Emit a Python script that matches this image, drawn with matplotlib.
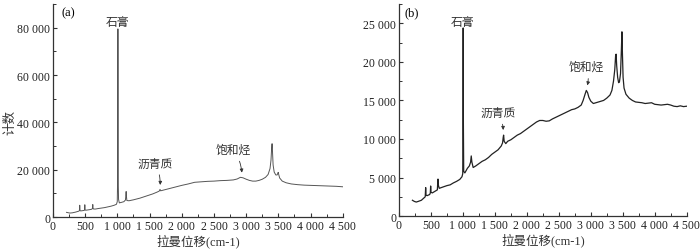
import matplotlib
matplotlib.use('Agg')
import matplotlib.pyplot as plt
from matplotlib.ticker import MultipleLocator, FuncFormatter

plt.rcParams['font.family'] = ['Liberation Serif', 'Noto Sans CJK SC']

# spectrum (a): raman shift (cm-1) and counts
a_x = [210, 260, 300, 350, 400, 410, 415, 420, 430, 480, 490, 494, 498, 510, 560, 600, 612, 618, 622, 630,
       660, 700, 800, 900, 950, 985, 998, 1003, 1006, 1008, 1010, 1013, 1018, 1030, 1060, 1100, 1125, 1133,
       1136, 1139, 1147, 1180, 1250, 1350, 1450, 1550, 1620, 1650, 1662, 1672, 1700, 1800, 1900, 2000, 2100,
       2200, 2300, 2400, 2500, 2600, 2700, 2800, 2860, 2910, 2950, 3000, 3050, 3100, 3150, 3200, 3250, 3300,
       3340, 3370, 3385, 3395, 3402, 3408, 3418, 3435, 3460, 3480, 3490, 3497, 3505, 3520, 3560, 3620, 3700,
       3800, 3900, 4000, 4100, 4200, 4300, 4400, 4500]
a_y = [2000, 1700, 1800, 2100, 2500, 2700, 5000, 2800, 2600, 2800, 3000, 5200, 3000, 2900, 3100, 3300, 3600,
       5300, 3800, 3400, 3400, 3600, 4000, 4600, 5000, 5400, 6500, 15000, 50000, 79500, 50000, 15000, 7500,
       6000, 6200, 6500, 7200, 9500, 10800, 9200, 7000, 6900, 7300, 8000, 8900, 9800, 10600, 11000, 11700,
       11100, 11300, 12000, 12700, 13400, 14000, 14700, 14900, 15100, 15200, 15400, 15500, 15700, 16100,
       16800, 16600, 16000, 15500, 15200, 15200, 15500, 16000, 16800, 18000, 20500, 24000, 29000, 31000,
       28000, 22000, 19000, 17800, 17800, 18400, 18900, 18000, 16500, 15200, 14500, 14000, 13700, 13500,
       13400, 13300, 13200, 13100, 13000, 12800]

# spectrum (b)
b_x = [210, 240, 270, 300, 350, 390, 410, 417, 423, 440, 480, 490, 495, 500, 520, 560, 600, 605, 610, 616,
       630, 680, 750, 800, 850, 900, 950, 985, 997, 1001, 1004, 1007, 1012, 1030, 1070, 1100, 1120, 1130,
       1140, 1160, 1200, 1250, 1300, 1350, 1400, 1450, 1500, 1550, 1600, 1620, 1630, 1636, 1645, 1670, 1700,
       1750, 1800, 1850, 1900, 1950, 2000, 2050, 2100, 2150, 2200, 2250, 2300, 2350, 2400, 2450, 2500, 2550,
       2600, 2650, 2700, 2750, 2800, 2850, 2880, 2910, 2930, 2950, 2970, 3000, 3040, 3080, 3120, 3160, 3200,
       3250, 3300, 3330, 3355, 3375, 3388, 3396, 3405, 3420, 3435, 3448, 3465, 3478, 3487, 3495, 3505, 3520,
       3550, 3600, 3650, 3700, 3750, 3800, 3850, 3900, 3950, 4000, 4050, 4100, 4150, 4200, 4250, 4300, 4350,
       4400, 4450, 4500]
b_y = [2050, 1900, 1820, 1900, 2050, 2350, 2500, 3700, 2700, 2650, 2800, 3000, 3900, 3100, 3000, 3200, 3400,
       4200, 4800, 4000, 3600, 3750, 3950, 4050, 4300, 4500, 4750, 5100, 5500, 12000, 24400, 12000, 5800,
       5600, 6200, 6500, 7000, 7800, 7000, 6300, 6500, 6800, 7100, 7300, 7600, 8000, 8300, 8600, 9100, 9500,
       10200, 10500, 9700, 9400, 9700, 9900, 10200, 10500, 10700, 11000, 11300, 11600, 11900, 12200, 12400,
       12400, 12300, 12350, 12600, 12800, 13000, 13200, 13400, 13600, 13800, 13900, 14100, 14400, 15000,
       15800, 16300, 16000, 15400, 14900, 14600, 14700, 14800, 14900, 15000, 15300, 15700, 16300, 17500,
       19000, 20800, 21000, 19500, 18000, 17300, 17400, 18500, 21500, 23900, 21000, 18000, 16600, 15800,
       15300, 15000, 14800, 14750, 14700, 14600, 14650, 14700, 14500, 14450, 14400, 14450, 14500, 14400,
       14250, 14200, 14300, 14200, 14250]

xlabel = '拉曼位移(cm-1)'
ylabel = '计数'


def fmt(v, pos):
    return '{:,}'.format(int(round(v))).replace(',', ' ')


fig = plt.figure(figsize=(7, 2.53), dpi=100)
ax1 = fig.add_axes([0.0757, 0.138, 0.414, 0.842])
ax2 = fig.add_axes([0.570, 0.142, 0.411, 0.838])

ax1.plot(a_x, a_y, color='#555555', lw=0.7)
ax2.plot(b_x, b_y, color='#222222', lw=0.9)

ax1.set_ylim(0, 90000)
ax2.set_ylim(0, 27500)
ax1.yaxis.set_major_locator(MultipleLocator(20000))
ax1.yaxis.set_minor_locator(MultipleLocator(10000))
ax2.yaxis.set_major_locator(MultipleLocator(5000))
ax2.yaxis.set_minor_locator(MultipleLocator(2500))

for ax in (ax1, ax2):
    ax.set_xlim(0, 4500)
    ax.xaxis.set_major_locator(MultipleLocator(500))
    ax.xaxis.set_minor_locator(MultipleLocator(250))
    ax.xaxis.set_major_formatter(FuncFormatter(fmt))
    ax.yaxis.set_major_formatter(FuncFormatter(fmt))
    for s in ('top', 'right'):
        ax.spines[s].set_visible(False)
    for s in ('left', 'bottom'):
        ax.spines[s].set_color('#333333')
        ax.spines[s].set_linewidth(0.9)
    ax.tick_params(which='major', direction='in', length=3, width=0.8, color='#333333',
                   labelsize=8.5, labelcolor='#222222', pad=2)
    ax.tick_params(which='minor', direction='in', length=2, width=0.7, color='#333333')
    ax.set_xlabel(xlabel, fontsize=9, color='#333333', labelpad=1)

fig.text(0.014, 0.514, ylabel, rotation=90, fontsize=9, color='#333333', va='center', ha='center')

ax1.text(0.03, 0.99, '(a)', transform=ax1.transAxes, fontsize=9, va='top', ha='left')
ax2.text(0.02, 0.99, '(b)', transform=ax2.transAxes, fontsize=9, va='top', ha='left')

cn = dict(fontsize=8.5, color='#333333', ha='center', va='center')
arr = dict(arrowstyle='-|>', color='#333333', lw=0.6, mutation_scale=5,
           connectionstyle='arc3,rad=-0.15')

ax1.text(1008, 82300, '石膏', **cn)
ax1.annotate('沥青质', xy=(1662, 12400), xytext=(1585, 22700), arrowprops=arr, **cn)
ax1.annotate('饱和烃', xy=(2935, 17600), xytext=(2805, 28400), arrowprops=arr, **cn)

ax2.text(1000, 25170, '石膏', **cn)
ax2.annotate('沥青质', xy=(1630, 10800), xytext=(1547, 13400), arrowprops=arr, **cn)
ax2.annotate('饱和烃', xy=(2935, 16600), xytext=(2937, 19330), arrowprops=arr, **cn)

fig.savefig('out.png', dpi=100)
